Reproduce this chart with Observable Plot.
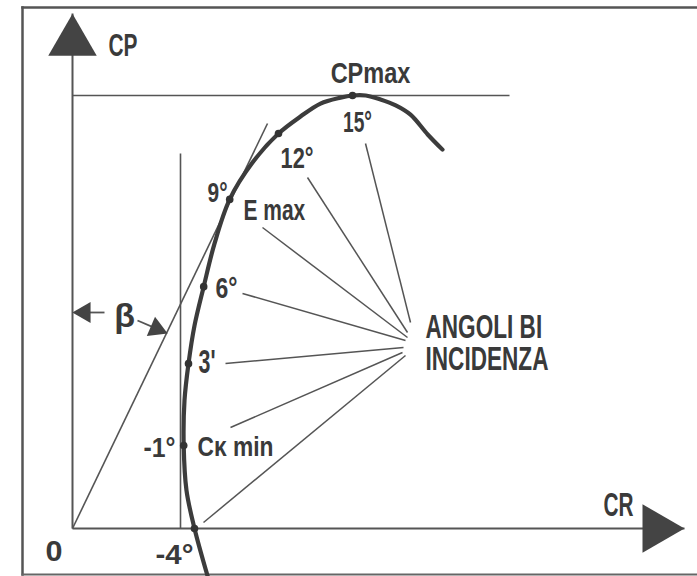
<!DOCTYPE html>
<html><head><meta charset="utf-8">
<script src="https://cdn.jsdelivr.net/npm/d3@7"></script>
<script src="https://cdn.jsdelivr.net/npm/@observablehq/plot@0.6"></script>
<style>body{margin:0;background:#fff} svg{display:block}</style>
</head><body>
<script>
// ---- Polar curve (CR = drag coeff., CP = lift coeff.) ----
const polarCR = [0.0338,0.0305,0.0285,0.0278,0.0280,0.0290,0.0305,0.0328,0.0355,0.0393,0.0450,0.0515,0.0570,0.0620,0.0670,0.0700,0.0733,0.0770,0.0808,0.0845,0.0888,0.0925];
const polarCP = [-0.155,0,0.123,0.268,0.414,0.533,0.656,0.782,0.921,1.064,1.183,1.277,1.332,1.374,1.393,1.400,1.400,1.387,1.368,1.338,1.274,1.225];

// ---- Angles of incidence marked on the curve ----
const angleNames = ["-4°","-1°","3°","6°","9°","12°","15°"];
const angleCR = [0.0305,0.0278,0.0290,0.0328,0.0393,0.0515,0.0700];
const angleCP = [0,0.268,0.533,0.782,1.064,1.277,1.400];

// ---- Reference lines ----
const cpMax = 1.4, cpMaxLineEndCR = 0.10925;
const crMin = 0.027, crMinLineTopCP = 1.2125;
const tangentCR = [0, 0.04875], tangentCP = [0, 1.3095];
const axisEndCR = 0.153, axisEndCP = 1.665;
const arrowHeadCR = 0.146, arrowHeadCP = 1.5737;

// ---- Leader lines to "ANGOLI BI INCIDENZA" ----
const leaderFromCR = [0.07325,0.05875,0.0475,0.0425,0.03825,0.0395,0.03275];
const leaderFromCP = [1.2448,1.1349,0.9732,0.7598,0.5335,0.3266,0.0194];
const leaderToCR   = [0.0845,0.08375,0.08375,0.08325,0.08275,0.0825,0.08325];
const leaderToCP   = [0.6661,0.6337,0.6176,0.6079,0.5852,0.5691,0.5594];

// ---- Beta angle arrows ----
const betaShaftFromCR = [0.00800, 0.01625], betaShaftFromCP = [0.6984, 0.6725];
const betaShaftToCR   = [0.00300, 0.02100], betaShaftToCP   = [0.6984, 0.6460];

// ---- Text labels ----
const labelTexts  = ["CP","CPmax","15°","12°","9°","E max","6°","3'","-1°","Cκ min","0","-4°","CR","β"];
const labelCR     = [0.009,0.0745,0.07125,0.052,0.03875,0.04275,0.03575,0.0315,0.02575,0.03125,-0.00675,0.02075,0.13275,0.013];
const labelCP     = [1.5293,1.442,1.2804,1.1672,1.0541,0.9959,0.7437,0.5012,0.2296,0.2360,-0.1035,-0.1132,0.0420,0.6499];
const labelAnchor = ["start","middle","middle","start","end","start","start","start","end","start","start","start","start","middle"];
const noteText = "ANGOLI BI\nINCIDENZA", noteCR = 0.08825, noteCP = 0.5109;

// styles (font size, squeezed width) per label
const labelStyle = {
  "CP":[31,29],"CPmax":[30,80],"15°":[30,29],"12°":[30,33],"9°":[27,20],"E max":[30,62],
  "6°":[29,22],"3'":[33,17],"-1°":[27,32],"Cκ min":[28,76],"0":[30,17],"-4°":[27,38],
  "CR":[34,30],"β":[34,0],"ANGOLI BI\nINCIDENZA":[34,123]
};
const ink = "#3a3a3a", thin = "#555";

const labels = labelTexts.map((t,i)=>({t, x:labelCR[i], y:labelCP[i], a:labelAnchor[i], s:labelStyle[t][0]}));
const links = (x1,y1,x2,y2) => x1.map((_,i)=>({x1:x1[i],y1:y1[i],x2:x2[i],y2:y2[i]}));
const L = {x1:"x1",y1:"y1",x2:"x2",y2:"y2"};

const chart = Plot.plot({
  width: 697, height: 576,
  marginLeft: 22, marginTop: 7, marginRight: 0, marginBottom: 2,
  x: {domain: [0, 0.15], range: [72, 672], axis: null},
  y: {domain: [0, 1.4], range: [528, 95], axis: null},
  style: {fontFamily: "'Liberation Sans', Arial, sans-serif", background: "#fff"},
  marks: [
    Plot.frame({anchor: "top", stroke: "#555", strokeWidth: 2.5}),
    Plot.frame({anchor: "left", stroke: "#555", strokeWidth: 2.5}),
    Plot.frame({anchor: "bottom", stroke: "#666", strokeWidth: 2}),
    // axes
    Plot.link([{x1:0,y1:0,x2:axisEndCR,y2:0},{x1:0,y1:0,x2:0,y2:axisEndCP}], {...L, stroke: thin, strokeWidth: 2}),
    Plot.dot([{x:0,y:arrowHeadCP,r:0},{x:arrowHeadCR,y:0,r:90}], {x:"x", y:"y", rotate:"r", symbol:"triangle", r:18, fill:"#444", stroke:"none"}),
    // CPmax line, CRmin line, tangent
    Plot.link([
      {x1:0,y1:cpMax,x2:cpMaxLineEndCR,y2:cpMax},
      {x1:crMin,y1:0,x2:crMin,y2:crMinLineTopCP},
      {x1:tangentCR[0],y1:tangentCP[0],x2:tangentCR[1],y2:tangentCP[1]}
    ], {...L, stroke: thin, strokeWidth: 1.6}),
    // leaders
    Plot.link(links(leaderFromCR,leaderFromCP,leaderToCR,leaderToCP), {...L, stroke: thin, strokeWidth: 1.5}),
    // beta arrows
    Plot.link(links(betaShaftFromCR,betaShaftFromCP,betaShaftToCR,betaShaftToCP), {...L, stroke: thin, strokeWidth: 1.8}),
    Plot.dot([{x:betaShaftToCR[0],y:betaShaftToCP[0],r:-90},{x:betaShaftToCR[1],y:betaShaftToCP[1],r:113}], {x:"x", y:"y", rotate:"r", symbol:"triangle", r:7.8, fill:"#444", stroke:"none"}),
    // polar curve
    Plot.line(d3.range(polarCR.length), {x: i=>polarCR[i], y: i=>polarCP[i], curve: "catmull-rom", stroke: "#3c3c3c", strokeWidth: 4.2, strokeLinecap: "round"}),
    Plot.dot(angleNames, {x: (d,i)=>angleCR[i], y: (d,i)=>angleCP[i], r: 3.8, fill: "#333", stroke: "none"}),
    // labels
    ...["start","middle","end"].map(a => Plot.text(labels.filter(d=>d.a===a), {
      x:"x", y:"y", text:"t", fontSize:"s", textAnchor:a, lineAnchor:"bottom", fontWeight:"bold", fill: ink
    })),
    Plot.text([{t:noteText, x:noteCR, y:noteCP}], {x:"x", y:"y", text:"t", fontSize:34, lineHeight:0.97,
      textAnchor:"start", lineAnchor:"bottom", fontWeight:"bold", fill: ink})
  ]
});
document.body.append(chart);
// squeeze glyphs horizontally to match the condensed lettering
chart.querySelectorAll("text").forEach(t => {
  const key = Array.from(t.querySelectorAll("tspan")).map(s=>s.textContent).join("\n") || t.textContent;
  const st = labelStyle[key];
  if (st && st[1] > 0) {
    const w = t.getBBox().width;
    if (w > 0) {
      const tr = t.getAttribute("transform") || "";
      t.setAttribute("transform", `${tr} scale(${st[1] / w},1)`);
    }
  }
});
</script></body></html>
